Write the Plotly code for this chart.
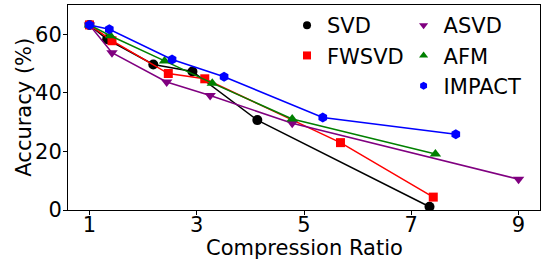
import plotly.graph_objects as go

# Data
svd_x = [1, 1.33, 2.19, 2.92, 4.13, 7.34]
svd_y = [63.2, 58.3, 49.7, 47.3, 30.7, 1.1]
fwsvd_x = [1, 1.42, 2.47, 3.15, 5.68, 7.41]
fwsvd_y = [63.2, 57.8, 46.6, 44.8, 23.0, 4.4]
asvd_x = [1, 1.42, 2.44, 3.25, 4.78, 9.0]
asvd_y = [63.2, 53.7, 43.7, 39.1, 29.6, 10.5]
afm_x = [1, 1.39, 2.40, 3.29, 4.78, 7.45]
afm_y = [63.2, 59.5, 50.9, 43.3, 31.1, 19.1]
impact_x = [1, 1.37, 2.54, 3.51, 5.35, 7.83]
impact_y = [63.2, 61.7, 51.4, 45.5, 31.6, 25.9]

x_ticks = [1, 3, 5, 7, 9]
y_ticks = [0, 20, 40, 60]

series = [
    ("SVD", svd_x, svd_y, "black", "circle", "legend"),
    ("FWSVD", fwsvd_x, fwsvd_y, "red", "square", "legend"),
    ("ASVD", asvd_x, asvd_y, "purple", "triangle-down", "legend2"),
    ("AFM", afm_x, afm_y, "green", "triangle-up", "legend2"),
    ("IMPACT", impact_x, impact_y, "blue", "hexagon", "legend2"),
]

FONT = "DejaVu Sans"
FS = 21
fig = go.Figure()
for name, xs, ys, color, sym, leg in series:
    fig.add_trace(go.Scatter(
        x=xs, y=ys, mode="lines+markers", name=name, showlegend=False,
        line=dict(color=color, width=1.5),
        marker=dict(color=color, symbol=sym, size=10 if sym != "square" else 9),
    ))
for name, xs, ys, color, sym, leg in series:
    fig.add_trace(go.Scatter(
        x=[None], y=[None], mode="markers", name=name, legend=leg,
        legendgroup=name,
        marker=dict(color=color, symbol=sym, size=8),
    ))

axis_common = dict(
    showline=True, linecolor="black", linewidth=1, mirror=True,
    ticks="outside", ticklen=4, tickcolor="black", tickwidth=1,
    showgrid=False, zeroline=False, automargin=False,
    tickfont=dict(family=FONT, size=FS, color="black"),
)
fig.update_xaxes(range=[0.6, 9.4], tickvals=x_ticks, ticklabelstandoff=-8, **axis_common)
fig.update_yaxes(range=[0, 70], tickvals=y_ticks, ticklabelstandoff=-3, **axis_common)

fig.add_annotation(text="Compression Ratio", xref="paper", yref="paper",
                   x=0.5, y=-0.185, xanchor="center", yanchor="middle",
                   showarrow=False, font=dict(family=FONT, size=FS, color="black"))
fig.add_annotation(text="Accuracy (%)", xref="paper", yref="paper",
                   x=-0.095, y=0.5, xanchor="center", yanchor="middle", textangle=-90,
                   showarrow=False, font=dict(family=FONT, size=FS, color="black"))

leg_common = dict(bgcolor="rgba(0,0,0,0)", borderwidth=0,
                  font=dict(family=FONT, size=FS, color="black"),
                  tracegroupgap=0, yanchor="top", xanchor="left",
                  itemwidth=30)
fig.update_layout(
    width=547, height=259,
    margin=dict(l=68, r=7, t=5, b=49),
    plot_bgcolor="white", paper_bgcolor="white",
    legend=dict(x=0.464, y=1.0, **leg_common),
    legend2=dict(x=0.711, y=1.0, **leg_common),
)
fig.write_html("out.html", config={"displayModeBar": False},
               post_script="document.body.style.margin='0';")
